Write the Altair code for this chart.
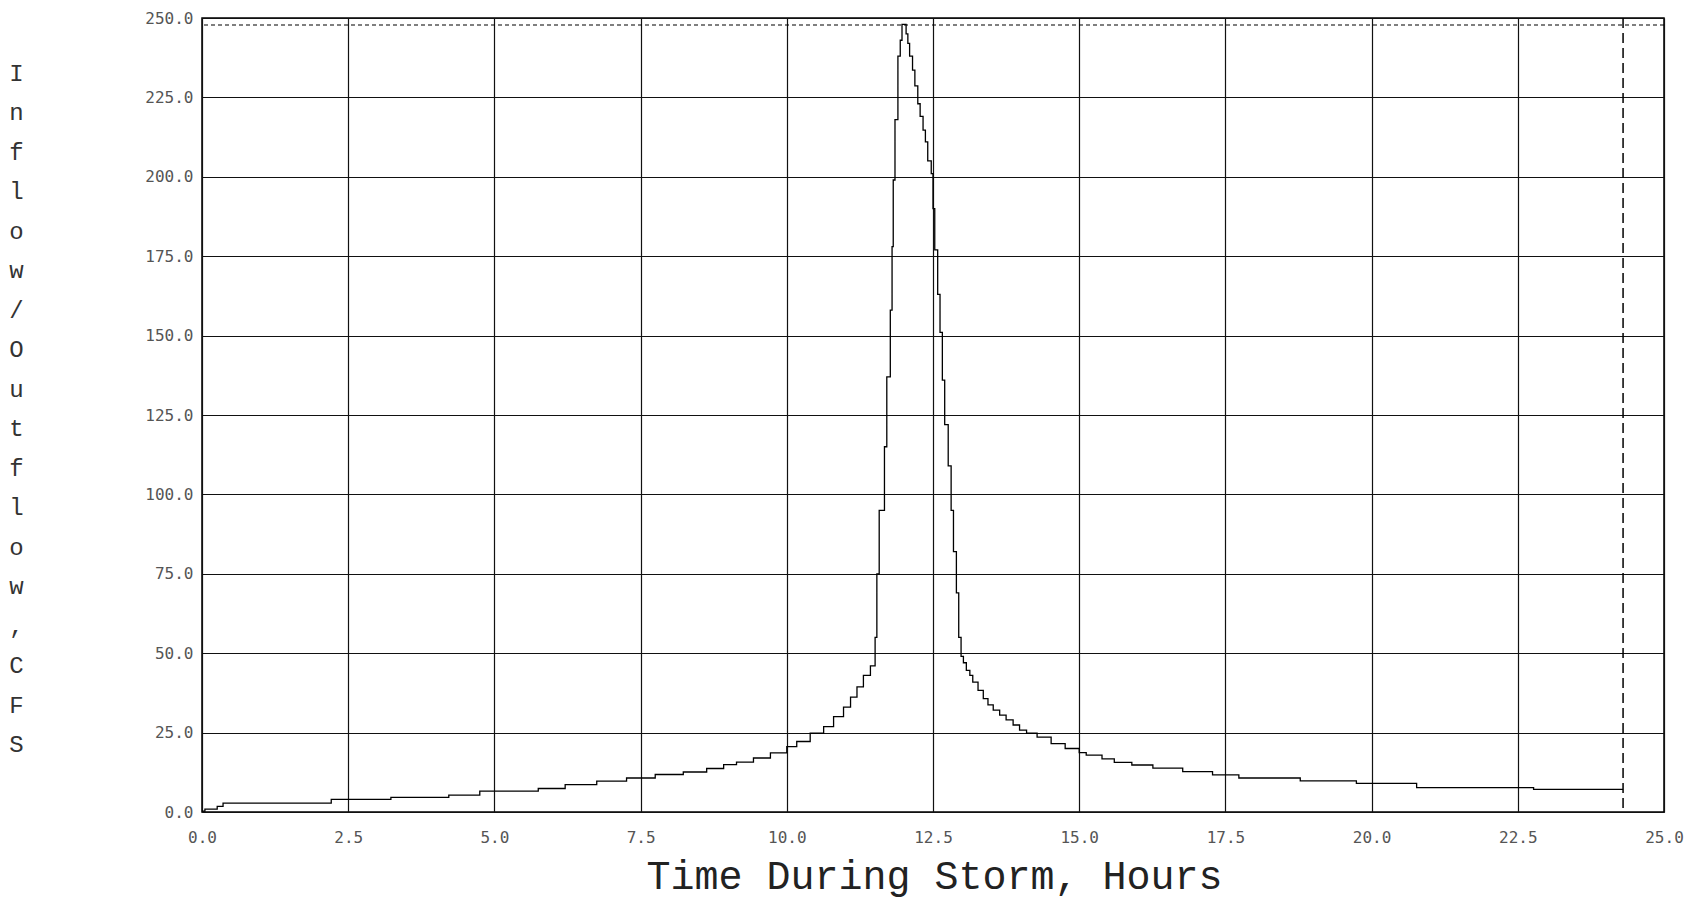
import altair as alt
import pandas as pd

# Inflow hydrograph (hours, cfs), drawn as steps
hours = [0.0, 0.05, 0.26, 0.36, 2.21, 3.23, 4.22, 4.75, 5.75, 6.21, 6.75, 7.26, 7.75,
         8.23, 8.63, 8.92, 9.14, 9.43, 9.72, 10.0, 10.17, 10.4, 10.63, 10.8, 10.97,
         11.09, 11.2, 11.31, 11.43, 11.51, 11.54, 11.58, 11.67, 11.71, 11.77, 11.80,
         11.82, 11.85, 11.90, 11.94, 11.97, 12.04, 12.07, 12.10, 12.15, 12.19, 12.24,
         12.28, 12.33, 12.37, 12.41, 12.47, 12.50, 12.53, 12.58, 12.62, 12.66, 12.70,
         12.76, 12.81, 12.85, 12.90, 12.94, 12.98, 13.02, 13.07, 13.13, 13.18, 13.27,
         13.36, 13.44, 13.53, 13.64, 13.75, 13.87, 13.98, 14.10, 14.28, 14.52, 14.76,
         15.0, 15.12, 15.39, 15.6, 15.9, 16.26, 16.77, 17.28, 17.73, 18.78, 19.74,
         20.77, 22.77, 24.3]
inflow_cfs = [0.3, 0.9, 1.8, 2.8, 4.0, 4.6, 5.3, 6.6, 7.4, 8.6, 9.7, 10.7, 11.8,
              12.6, 13.7, 14.9, 15.7, 17.0, 18.6, 20.6, 22.2, 24.8, 26.9, 30.0, 33.0,
              36.2, 39.4, 43.0, 46.0, 55.0, 75.0, 95.0, 115.0, 137.0, 158.0, 178.0,
              199.0, 218.0, 238.0, 243.0, 248.0, 245.0, 242.0, 238.0, 233.6, 228.6, 223.0,
              219.0, 214.7, 211.0, 205.0, 201.0, 190.0, 177.0, 163.0, 151.0, 136.0, 122.0,
              109.0, 95.0, 82.0, 69.0, 55.0, 49.0, 47.0, 44.6, 43.0, 40.9, 38.3,
              35.7, 33.7, 32.1, 30.5, 29.0, 27.4, 25.8, 24.8, 23.6, 21.5, 20.0,
              18.7, 17.9, 16.7, 15.6, 14.8, 13.8, 12.7, 11.7, 10.7, 9.8, 9.0,
              7.7, 7.1, 7.1]

x_ticks = [0.0, 2.5, 5.0, 7.5, 10.0, 12.5, 15.0, 17.5, 20.0, 22.5, 25.0]
y_ticks = [0.0, 25.0, 50.0, 75.0, 100.0, 125.0, 150.0, 175.0, 200.0, 225.0, 250.0]
peak_marker_cfs = [247.8]
storm_end_hours = [24.3]
x_title = "Time During Storm, Hours"
y_title_lines = ["I", "n", "f", "l", "o", "w", "/", "O", "u", "t", "f", "l", "o", "w",
                 ", ", "C", "F", "S"]

df = pd.DataFrame({"t": hours, "q": inflow_cfs})

x_scale = alt.Scale(domain=[0, 25], nice=False, zero=False)
y_scale = alt.Scale(domain=[0, 250], nice=False)

label_font = "DejaVu Sans Mono"
title_font = "Liberation Mono"

x_axis = alt.Axis(
    values=x_ticks, format=".1f", title=x_title,
    grid=True, gridColor="#111111", gridWidth=1.2, gridOpacity=1,
    domain=False, ticks=False,
    labelFont=label_font, labelFontSize=16, labelColor="#555555",
    labelPadding=17, labelFlush=False,
    titleFont=title_font, titleFontSize=40, titleFontWeight="normal",
    titleColor="#222222", titleX=732, titleY=76, titleAlign="center",
    titleBaseline="alphabetic")

y_axis = alt.Axis(
    values=y_ticks, format=".1f", title=y_title_lines,
    grid=True, gridColor="#111111", gridWidth=1.2, gridOpacity=1,
    domain=False, ticks=False,
    labelFont=label_font, labelFontSize=16, labelColor="#555555",
    labelPadding=9, labelFlush=False,
    titleFont=title_font, titleFontSize=24, titleFontWeight="normal",
    titleColor="#333333", titleAngle=0, titleX=-186, titleY=55,
    titleAlign="center", titleBaseline="middle", titleLineHeight=39.5)

line = alt.Chart(df).mark_line(
    interpolate="step-after", color="black", strokeWidth=1.3
).encode(
    x=alt.X("t:Q", scale=x_scale, axis=x_axis),
    y=alt.Y("q:Q", scale=y_scale, axis=y_axis),
)

peak_rule = alt.Chart(pd.DataFrame({"q": peak_marker_cfs})).mark_rule(
    color="black", strokeDash=[4, 3], strokeWidth=1.2
).encode(y=alt.Y("q:Q", scale=y_scale, axis=y_axis))

end_rule = alt.Chart(pd.DataFrame({"t": storm_end_hours})).mark_rule(
    color="black", strokeDash=[10, 5], strokeWidth=1.5
).encode(x=alt.X("t:Q", scale=x_scale, axis=x_axis))

chart = alt.layer(line, peak_rule, end_rule).properties(
    width=1462, height=794,
    autosize=alt.AutoSizeParams(type="none"),
    padding={"left": 202, "top": 18, "right": 30, "bottom": 91},
    background="white",
).configure_view(stroke="black", strokeWidth=1.5)

chart.save("out.html", embed_options={"renderer": "svg", "actions": False})
